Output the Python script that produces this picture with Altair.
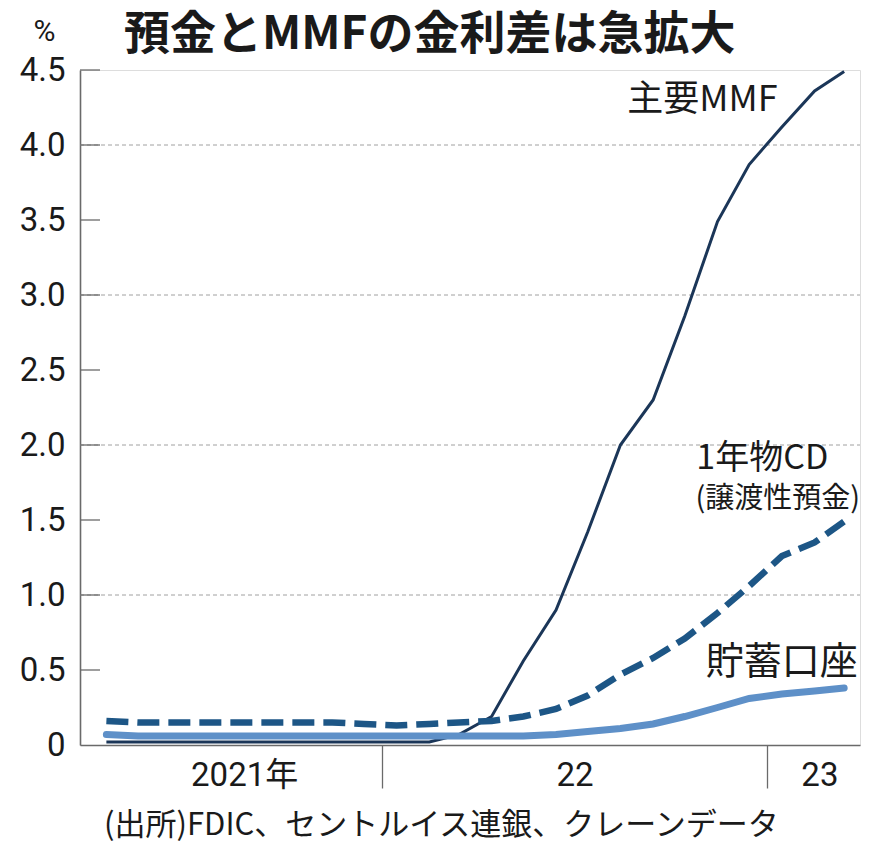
import altair as alt
import pandas as pd

# ---- data ----
months = ["2021-04-15", "2021-05-15", "2021-06-15", "2021-07-15", "2021-08-15", "2021-09-15",
          "2021-10-15", "2021-11-15", "2021-12-15", "2022-01-15", "2022-02-15", "2022-03-15",
          "2022-04-15", "2022-05-15", "2022-06-15", "2022-07-15", "2022-08-15", "2022-09-15",
          "2022-10-15", "2022-11-15", "2022-12-15", "2023-01-15", "2023-02-15", "2023-03-15"]
mmf = [0.02, 0.02, 0.02, 0.02, 0.02, 0.02, 0.02, 0.02, 0.02, 0.02, 0.02, 0.07,
       0.19, 0.56, 0.90, 1.42, 2.00, 2.30, 2.86, 3.49, 3.87, 4.12, 4.36, 4.49]
cd = [0.16, 0.15, 0.15, 0.15, 0.15, 0.15, 0.15, 0.15, 0.14, 0.13, 0.14, 0.15,
      0.16, 0.19, 0.24, 0.33, 0.47, 0.58, 0.71, 0.88, 1.06, 1.26, 1.35, 1.49]
savings = [0.07, 0.06, 0.06, 0.06, 0.06, 0.06, 0.06, 0.06, 0.06, 0.06, 0.06, 0.06,
           0.06, 0.06, 0.07, 0.09, 0.11, 0.14, 0.19, 0.25, 0.31, 0.34, 0.36, 0.38]

y_ticks = [0, 0.5, 1.0, 1.5, 2.0, 2.5, 3.0, 3.5, 4.0, 4.5]
inner_ticks = [0.5, 1.0, 1.5, 2.0, 2.5, 3.0, 3.5, 4.0, 4.5]
grid_vals = [1.0, 2.0, 3.0, 4.0]

year_labels = ["2021年", "22", "23"]
year_label_dates = ["2021-08-24", "2022-07-03", "2023-02-20"]

series_labels = ["主要MMF", "1年物CD", "(譲渡性預金)", "貯蓄口座"]
series_label_dates = ["2023-01-11", "2023-02-28", "2023-03-30", "2023-03-28"]
series_label_values = [4.30, 1.91, 1.64, 0.55]
series_label_sizes = [36, 34, 29, 38]

title = "預金とMMFの金利差は急拡大"
source = "(出所)FDIC、セントルイス連銀、クレーンデータ"

# ---- style ----
W, H = 780, 675
LATIN = "Roboto, Noto Sans CJK JP"
MIX = "Noto Sans CJK JP"
AXIS_C = "#6a6a6a"
TXT = "#1a1a1a"

x_enc = alt.X(
    "date:T",
    scale=alt.Scale(type="utc", domain=[alt.DateTime(year=2021, month=3, date=21, utc=True),
                                        alt.DateTime(year=2023, month=3, date=30, utc=True)]),
    axis=alt.Axis(values=[alt.DateTime(year=2022, month=1, date=1, utc=True),
                          alt.DateTime(year=2023, month=1, date=1, utc=True)],
                  labels=False, tickSize=43, tickColor=AXIS_C, tickWidth=1.3,
                  domainColor=AXIS_C, domainWidth=1.6, grid=False, title=None),
)
y_enc = alt.Y(
    "value:Q",
    scale=alt.Scale(domain=[0, 4.5], nice=False, zero=True),
    axis=alt.Axis(values=y_ticks, ticks=False, grid=False,
                  labelExpr="datum.value == 0 ? '0' : format(datum.value, '.1f')",
                  labelFont=LATIN, labelFontSize=33, labelColor=TXT, labelPadding=15,
                  domainColor=AXIS_C, domainWidth=1.6,
                  title="%", titleAngle=0, titleX=-36, titleY=-39, titleAlign="center",
                  titleBaseline="middle", titleFont=LATIN, titleFontSize=30,
                  titleFontWeight="normal", titleColor=TXT),
)

def line_df(vals):
    return pd.DataFrame({"date": months, "value": vals})

grid = alt.Chart(pd.DataFrame({"value": grid_vals})).mark_rule(
    color="#a0a0a0", strokeWidth=1, strokeDash=[4, 3]
).encode(y=y_enc, x=alt.value(0), x2=alt.value(W))

ticks = alt.Chart(pd.DataFrame({"value": inner_ticks})).mark_rule(
    color=AXIS_C, strokeWidth=1.3
).encode(y=y_enc, x=alt.value(0), x2=alt.value(20))

mmf_line = alt.Chart(line_df(mmf)).mark_line(
    color="#1b3658", strokeWidth=3, interpolate="linear"
).encode(x=x_enc, y=y_enc)

sav_line = alt.Chart(line_df(savings)).mark_line(
    color="#5e90c8", strokeWidth=7, strokeCap="round"
).encode(x=x_enc, y=y_enc)

cd_line = alt.Chart(line_df(cd)).mark_line(
    color="#1d5686", strokeWidth=6.5, strokeDash=[22, 9]
).encode(x=x_enc, y=y_enc)

labels = alt.Chart(pd.DataFrame({
    "date": series_label_dates, "value": series_label_values,
    "text": series_labels, "fs": series_label_sizes,
})).mark_text(align="right", baseline="middle", font=MIX, color=TXT).encode(
    x=x_enc, y=y_enc, text="text:N", size=alt.Size("fs:Q", scale=None, legend=None)
)

years = alt.Chart(pd.DataFrame({"date": year_label_dates, "text": year_labels})).mark_text(
    align="center", baseline="middle", font=LATIN, fontSize=33, color=TXT
).encode(x=x_enc, y=alt.value(H + 31), text="text:N")

src = alt.Chart(pd.DataFrame({"text": [source]})).mark_text(
    align="left", baseline="middle", font=MIX, fontSize=31, color=TXT
).encode(x=alt.value(24), y=alt.value(H + 81), text="text:N")

ttl = alt.Chart(pd.DataFrame({"text": [title]})).mark_text(
    align="left", baseline="middle", font=MIX, fontSize=46, fontWeight="bold", color=TXT
).encode(x=alt.value(44), y=alt.value(-35), text="text:N")

chart = alt.layer(grid, ticks, mmf_line, sav_line, cd_line, labels, years, src, ttl).properties(
    width=W, height=H,
    autosize=alt.AutoSizeParams(type="none"),
    padding={"left": 72, "top": 62, "right": 9, "bottom": 100},
).configure_view(stroke=None).configure(background="white")

chart.save("out.html", embed_options={"renderer": "svg", "actions": False})
